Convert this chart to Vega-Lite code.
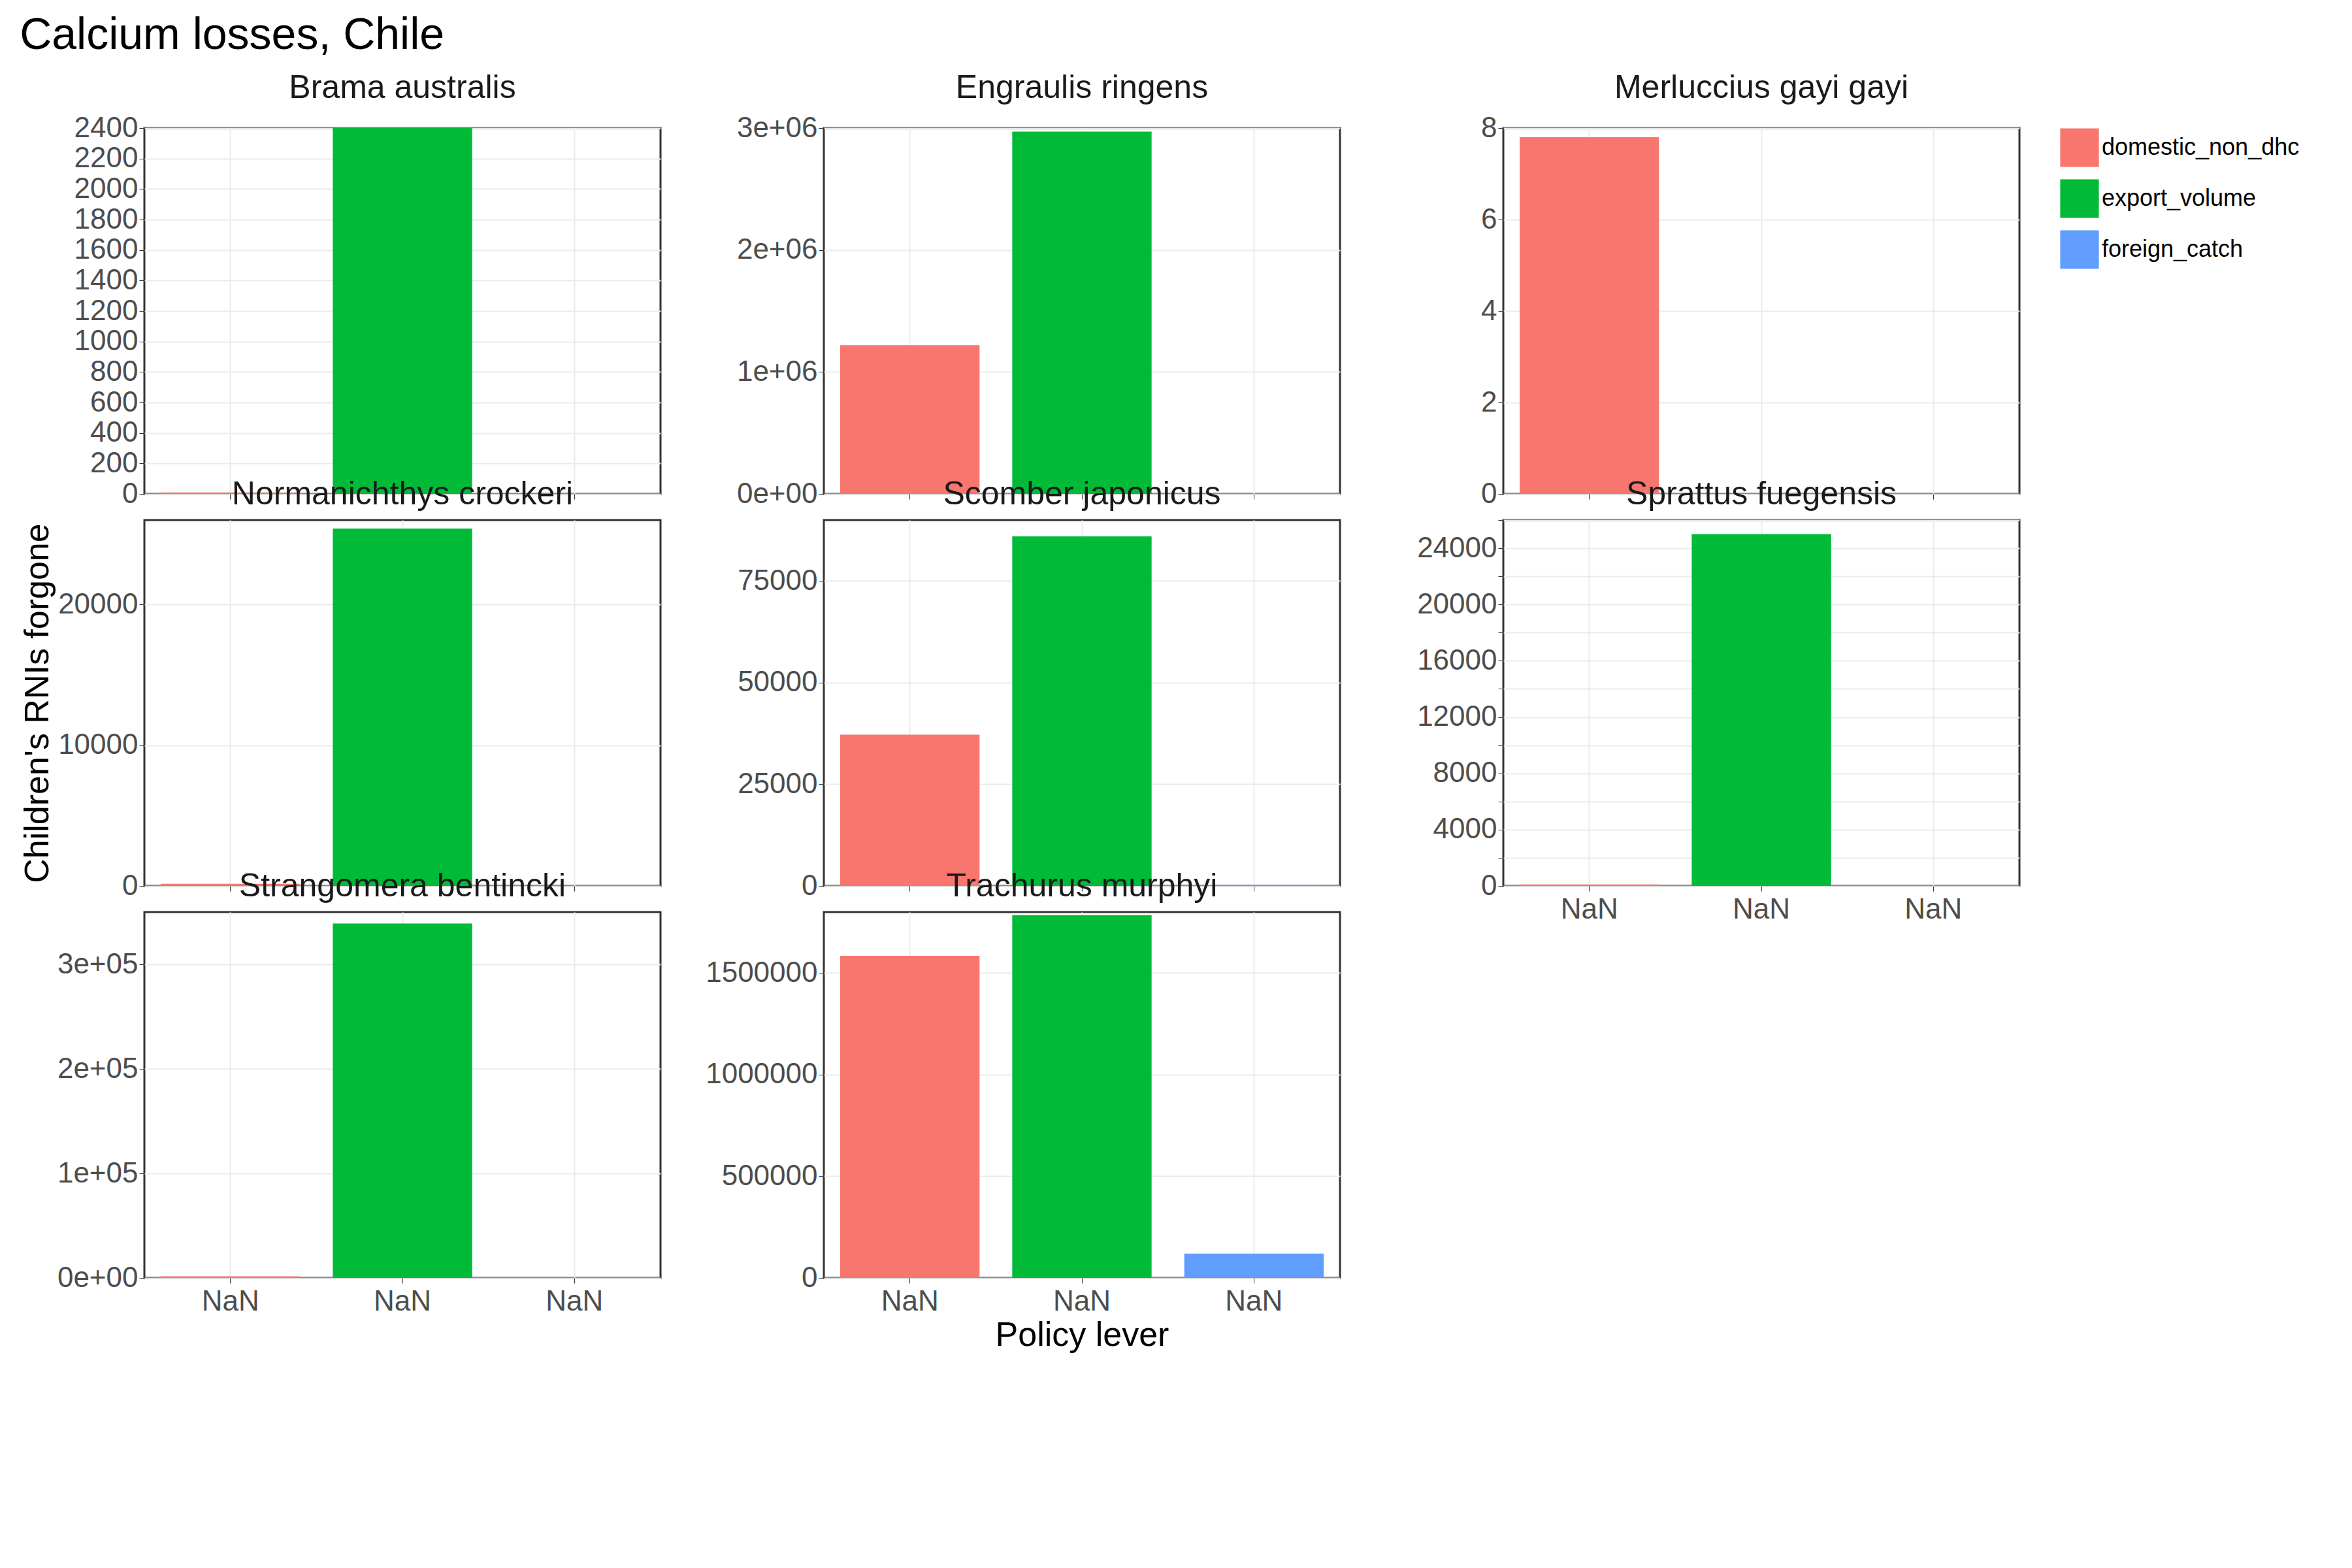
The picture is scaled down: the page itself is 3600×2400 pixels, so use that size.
{
  "$schema": "https://vega.github.io/schema/vega-lite/v6.json",
  "background": "white",
  "padding": {"left": 30, "top": 20, "right": 20, "bottom": 20},
  "title": {"text": "Calcium losses, Chile", "anchor": "start", "fontSize": 68, "fontWeight": "normal", "color": "black", "offset": 20},
  "data": {"values": [
    {"species": "Brama australis", "lever": "domestic_non_dhc", "label": "Non-DHC", "value": 10},
    {"species": "Brama australis", "lever": "export_volume", "label": "Exports", "value": 2400},
    {"species": "Engraulis ringens", "lever": "domestic_non_dhc", "label": "Non-DHC", "value": 1220000},
    {"species": "Engraulis ringens", "lever": "export_volume", "label": "Exports", "value": 2970000},
    {"species": "Merluccius gayi gayi", "lever": "domestic_non_dhc", "label": "Non-DHC", "value": 7.8},
    {"species": "Normanichthys crockeri", "lever": "domestic_non_dhc", "label": "Non-DHC", "value": 150},
    {"species": "Normanichthys crockeri", "lever": "export_volume", "label": "Exports", "value": 25400},
    {"species": "Scomber japonicus", "lever": "domestic_non_dhc", "label": "Non-DHC", "value": 37200},
    {"species": "Scomber japonicus", "lever": "export_volume", "label": "Exports", "value": 86000},
    {"species": "Scomber japonicus", "lever": "foreign_catch", "label": "Foreign catch", "value": 300},
    {"species": "Sprattus fuegensis", "lever": "domestic_non_dhc", "label": "Non-DHC", "value": 100},
    {"species": "Sprattus fuegensis", "lever": "export_volume", "label": "Exports", "value": 25000},
    {"species": "Strangomera bentincki", "lever": "domestic_non_dhc", "label": "Non-DHC", "value": 1500},
    {"species": "Strangomera bentincki", "lever": "export_volume", "label": "Exports", "value": 339000},
    {"species": "Trachurus murphyi", "lever": "domestic_non_dhc", "label": "Non-DHC", "value": 1585000},
    {"species": "Trachurus murphyi", "lever": "export_volume", "label": "Exports", "value": 1785000},
    {"species": "Trachurus murphyi", "lever": "foreign_catch", "label": "Foreign catch", "value": 120000}
  ]},
  "columns": 3,
  "bounds": "flush",
  "spacing": {"column": 250, "row": 40},
  "resolve": {"scale": {"y": "independent"}},
  "concat": [
    {"title": "Brama australis", "transform": [{"filter": "datum.species == 'Brama australis'"}], "mark": "bar",
     "encoding": {"x": {"field": "label", "type": "nominal", "scale": {"domain": ["Non-DHC", "Exports", "Foreign catch"]}, "title": null, "axis": {"labels": false}},
                  "y": {"field": "value", "type": "quantitative", "title": null},
                  "color": {"field": "lever", "type": "nominal"}}},
    {"title": "Engraulis ringens", "transform": [{"filter": "datum.species == 'Engraulis ringens'"}], "mark": "bar",
     "encoding": {"x": {"field": "label", "type": "nominal", "scale": {"domain": ["Non-DHC", "Exports", "Foreign catch"]}, "title": null, "axis": {"labels": false}},
                  "y": {"field": "value", "type": "quantitative", "title": null, "axis": {"values": [0, 1000000, 2000000, 3000000], "labelExpr": "datum.value == 0 ? '0e+00' : (datum.value / 1000000) + 'e+06'"}},
                  "color": {"field": "lever", "type": "nominal"}}},
    {"title": "Merluccius gayi gayi", "transform": [{"filter": "datum.species == 'Merluccius gayi gayi'"}], "mark": "bar",
     "encoding": {"x": {"field": "label", "type": "nominal", "scale": {"domain": ["Non-DHC", "Exports", "Foreign catch"]}, "title": null, "axis": {"labels": false}},
                  "y": {"field": "value", "type": "quantitative", "title": null, "axis": {"values": [0, 2, 4, 6, 8]}},
                  "color": {"field": "lever", "type": "nominal"}}},
    {"title": "Normanichthys crockeri", "transform": [{"filter": "datum.species == 'Normanichthys crockeri'"}], "mark": "bar",
     "encoding": {"x": {"field": "label", "type": "nominal", "scale": {"domain": ["Non-DHC", "Exports", "Foreign catch"]}, "title": null, "axis": {"labels": false}},
                  "y": {"field": "value", "type": "quantitative", "title": "Children's RNIs forgone", "axis": {"values": [0, 10000, 20000]}},
                  "color": {"field": "lever", "type": "nominal"}}},
    {"title": "Scomber japonicus", "transform": [{"filter": "datum.species == 'Scomber japonicus'"}], "mark": "bar",
     "encoding": {"x": {"field": "label", "type": "nominal", "scale": {"domain": ["Non-DHC", "Exports", "Foreign catch"]}, "title": null, "axis": {"labels": false}},
                  "y": {"field": "value", "type": "quantitative", "title": null, "axis": {"values": [0, 25000, 50000, 75000]}},
                  "color": {"field": "lever", "type": "nominal"}}},
    {"title": "Sprattus fuegensis", "transform": [{"filter": "datum.species == 'Sprattus fuegensis'"}], "mark": "bar",
     "encoding": {"x": {"field": "label", "type": "nominal", "scale": {"domain": ["Non-DHC", "Exports", "Foreign catch"]}, "title": null},
                  "y": {"field": "value", "type": "quantitative", "title": null},
                  "color": {"field": "lever", "type": "nominal"}}},
    {"title": "Strangomera bentincki", "transform": [{"filter": "datum.species == 'Strangomera bentincki'"}], "mark": "bar",
     "encoding": {"x": {"field": "label", "type": "nominal", "scale": {"domain": ["Non-DHC", "Exports", "Foreign catch"]}, "title": null},
                  "y": {"field": "value", "type": "quantitative", "title": null, "axis": {"values": [0, 100000, 200000, 300000], "labelExpr": "datum.value == 0 ? '0e+00' : (datum.value / 100000) + 'e+05'"}},
                  "color": {"field": "lever", "type": "nominal"}}},
    {"title": "Trachurus murphyi", "transform": [{"filter": "datum.species == 'Trachurus murphyi'"}], "mark": "bar",
     "encoding": {"x": {"field": "label", "type": "nominal", "scale": {"domain": ["Non-DHC", "Exports", "Foreign catch"]}, "title": "Policy lever"},
                  "y": {"field": "value", "type": "quantitative", "title": null, "axis": {"values": [0, 500000, 1000000, 1500000]}},
                  "color": {"field": "lever", "type": "nominal"}}}
  ],
  "config": {
    "font": "Liberation Sans",
    "view": {"stroke": "#333333", "strokeWidth": 3, "continuousWidth": 790, "continuousHeight": 560, "discreteWidth": 790, "discreteHeight": 560},
    "title": {"fontSize": 50, "fontWeight": "normal", "color": "#1a1a1a", "anchor": "middle", "offset": 14},
    "bar": {"width": {"band": 0.9}},
    "scale": {"bandPaddingInner": 0.1, "bandPaddingOuter": 0.05},
    "range": {"category": ["#F8766D", "#00BA38", "#619CFF"]},
    "axis": {"labelFontSize": 44, "titleFontSize": 52, "labelColor": "#4d4d4d", "titleColor": "black", "titleFontWeight": "normal", "gridColor": "#ebebeb", "gridWidth": 2, "tickColor": "#333333", "tickSize": 8, "domain": false, "labelLimit": 0, "labelAngle": 0, "format": "d"},
    "axisX": {"grid": true, "labelPadding": 6},
    "legend": {"title": "lever", "titleFontSize": 44, "titleFontWeight": "normal", "labelFontSize": 36, "symbolType": "square", "symbolSize": 3500, "symbolStrokeWidth": 0, "rowPadding": 18, "labelLimit": 0, "orient": "right", "offset": 60}
  }
}
